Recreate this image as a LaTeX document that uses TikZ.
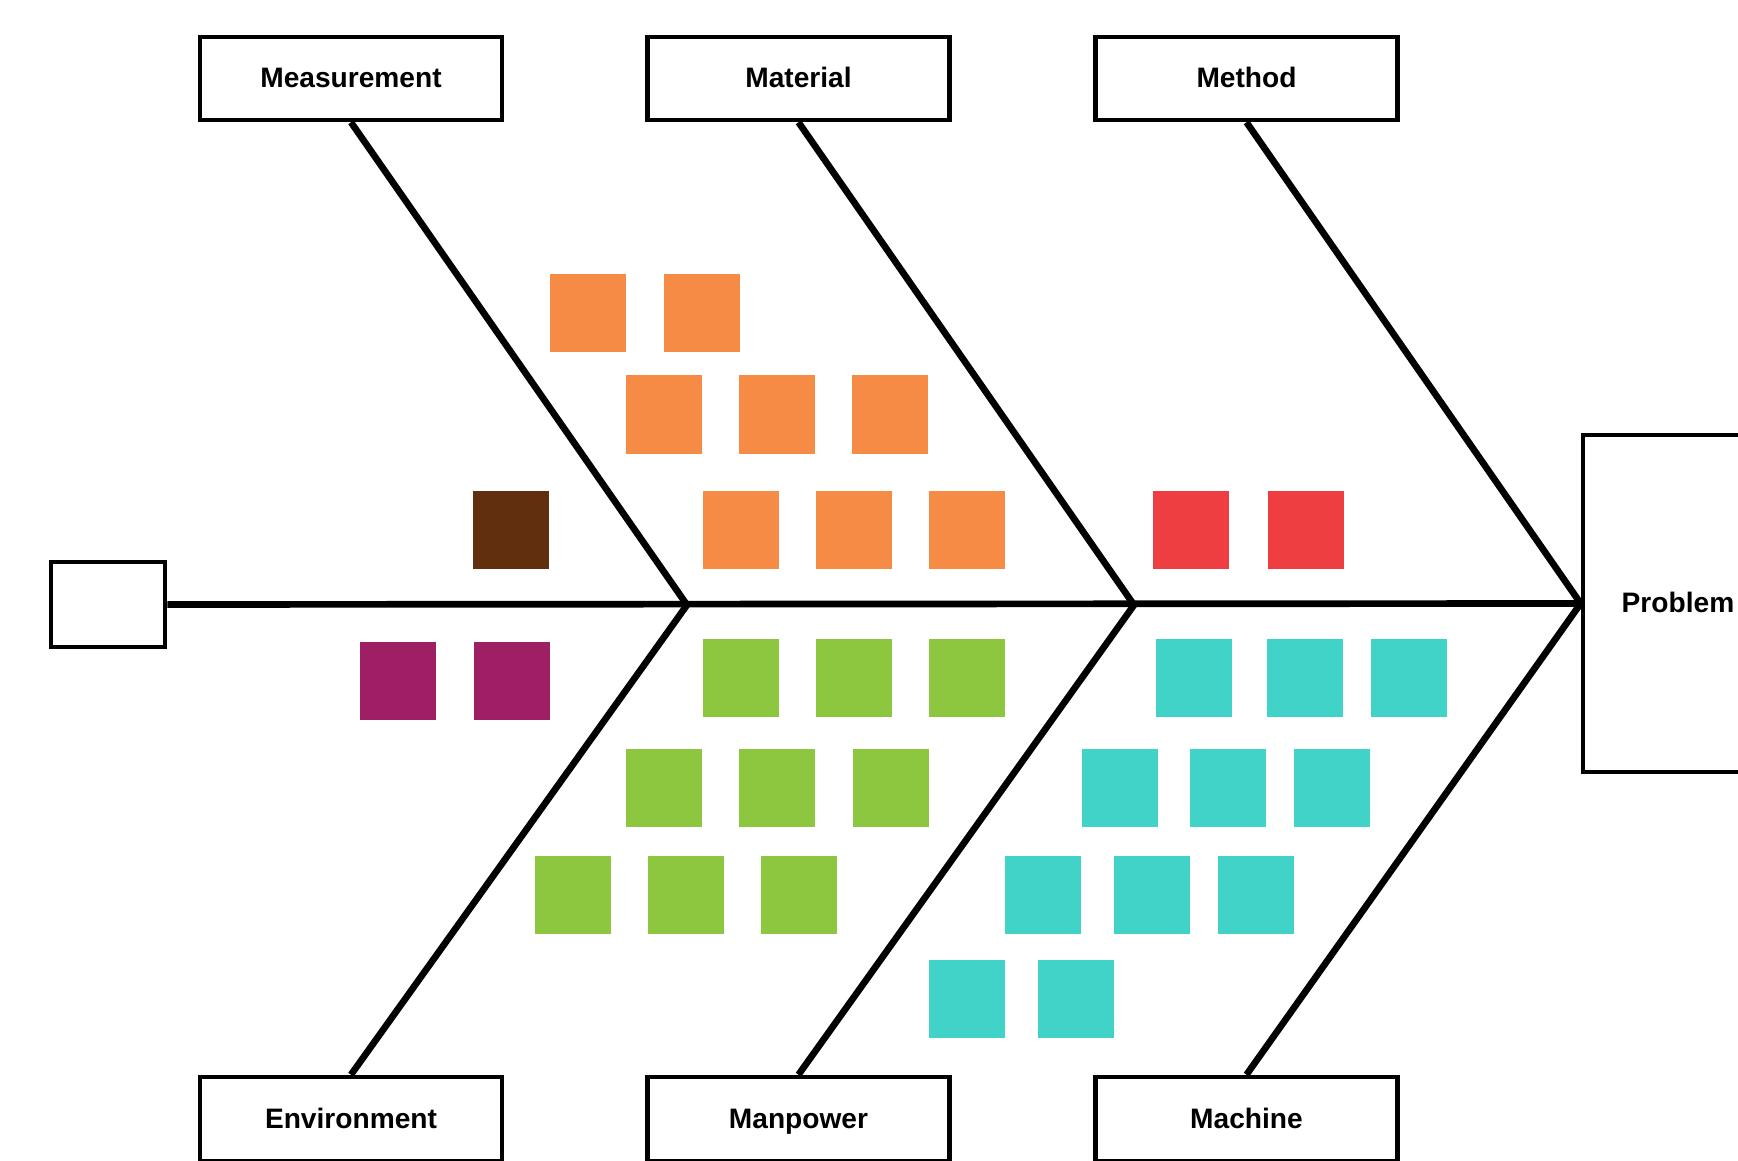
\documentclass[tikz,border=0pt]{standalone}
\usepackage{fontspec}
\setmainfont{Liberation Sans}
\usetikzlibrary{positioning}

\definecolor{cOrange}{HTML}{F58B45}
\definecolor{cBrown}{HTML}{612E0E}
\definecolor{cRed}{HTML}{EE3E41}
\definecolor{cPurple}{HTML}{9E1F63}
\definecolor{cGreen}{HTML}{8DC63F}
\definecolor{cTeal}{HTML}{41D3C7}

\begin{document}
\begin{tikzpicture}[x=0.01cm,y=-0.01cm,
  catbox/.style={draw,line width=1.3pt,minimum width=3.02cm,minimum height=0.83cm,inner sep=0pt,text height=0.72em,text depth=0.2em,font=\fontsize{8}{10}\selectfont\bfseries},
  card/.style={fill=#1,minimum width=0.76cm,minimum height=0.78cm,inner sep=0pt},
  bone/.style={line width=1.9pt}]

\clip (0,0) rectangle (1738,1161);
\fill[white] (0,0) rectangle (1738,1161);

% head and tail
\node (prob) [catbox,minimum width=1.9cm,minimum height=3.37cm] at (1678,603.5) {Problem};
\node (tail) [draw,line width=1.3pt,minimum width=1.14cm,minimum height=0.85cm] at (108,604.5) {};

% categories
\node (meas) [catbox] at (351,78.5) {Measurement};
\node (mat) [catbox] at (798.5,78.5) {Material};
\node (meth) [catbox] at (1246.5,78.5) {Method};
\node (env) [catbox,minimum height=0.84cm] at (351,1119) {Environment};
\node (man) [catbox,minimum height=0.84cm] at (798.5,1119) {Manpower};
\node (mach) [catbox,minimum height=0.84cm] at (1246.5,1119) {Machine};

% spine and bones
\coordinate (j1) at (687,605);
\coordinate (j2) at (1134,605);
\draw[bone] (tail.east) -- (prob.west);
\draw[bone] (meas.south) -- (j1) -- (env.north);
\draw[bone] (mat.south) -- (j2) -- (man.north);
\draw[bone] (meth.south) -- (prob.west) -- (mach.north);

% causes above the spine
\node (or1) [card=cOrange] at (588,313) {};
\node (or2) [card=cOrange] at (702,313) {};
\foreach \x [count=\i] in {664,777,890}
  \node (ot\i) [card=cOrange] at (\x,414.5) {};
\foreach \x [count=\i] in {741,854,967}
  \node (ob\i) [card=cOrange] at (\x,530) {};
\node (br1) [card=cBrown] at (511,530) {};
\node (rd1) [card=cRed] at (1191,530) {};
\node (rd2) [card=cRed] at (1306,530) {};

% causes below the spine
\node (pu1) [card=cPurple] at (398,681) {};
\node (pu2) [card=cPurple] at (512,681) {};
\foreach \x [count=\i] in {741,854,967}
  \node (ga\i) [card=cGreen] at (\x,678) {};
\foreach \x [count=\i] in {664,777,891}
  \node (gb\i) [card=cGreen] at (\x,788) {};
\foreach \x [count=\i] in {573,686,799}
  \node (gc\i) [card=cGreen] at (\x,895) {};
\foreach \x [count=\i] in {1194,1305,1409}
  \node (ta\i) [card=cTeal] at (\x,678) {};
\foreach \x [count=\i] in {1120,1228,1332}
  \node (tb\i) [card=cTeal] at (\x,788) {};
\foreach \x [count=\i] in {1043,1152,1256}
  \node (tc\i) [card=cTeal] at (\x,895) {};
\node (td1) [card=cTeal] at (967,999) {};
\node (td2) [card=cTeal] at (1076,999) {};

\end{tikzpicture}
\end{document}
